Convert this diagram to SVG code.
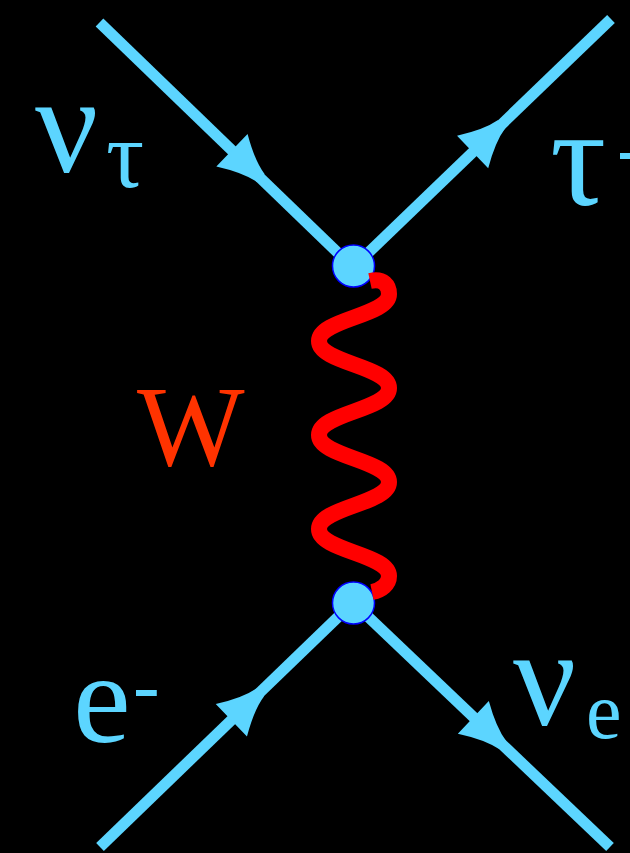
<svg xmlns="http://www.w3.org/2000/svg" width="630" height="853" viewBox="0 0 630 853">
<defs>
<style>
.fermion{stroke:#5cd5ff;stroke-width:11;fill:none;stroke-linecap:butt}
.arrow{fill:#5cd5ff}
.vertex{fill:#5cd5ff;stroke:#0000ff;stroke-width:1.5}
.lbl{font-family:"Liberation Serif","Times New Roman",serif;fill:#5cd5ff}
.wlbl{font-family:"Liberation Serif","Times New Roman",serif;fill:#ff3300}
</style>
<path id="ah" d="M2,-5.5 Q-14,-8 -38,-22.5 L-38,22.5 Q-14,8 2,5.5 Z"/>
</defs>
<rect x="0" y="0" width="630" height="853" fill="#000"/>
<g id="connectors">
<line class="fermion" x1="99.5" y1="22.5" x2="366" y2="280"/>
<line class="fermion" x1="611" y1="19" x2="340" y2="280"/>
<line class="fermion" x1="100" y1="847" x2="366" y2="590"/>
<line class="fermion" x1="610" y1="847" x2="340" y2="590"/>
<use href="#ah" class="arrow" transform="translate(259.3,176.6) rotate(43.96)"/>
<use href="#ah" class="arrow" transform="translate(500,125.7) rotate(-43.87)"/>
<use href="#ah" class="arrow" transform="translate(258.7,693.9) rotate(-43.96)"/>
<use href="#ah" class="arrow" transform="translate(500.9,743.5) rotate(43.5)"/>
</g>
<g id="v1"><circle class="vertex" cx="353.5" cy="266" r="21"/></g>
<g id="v2"><circle class="vertex" cx="353.5" cy="603" r="21"/></g>
<g id="w-boson">
<path d="M370,281 C384,278 389,286 389,294 C389,316 319,319 319,341 C319,363 389,366 389,388 C389,410 319,413 319,435 C319,457 389,460 389,482 C389,504 319,507 319,529 C319,551 389,554 389,576 C389,584 382,590 372,592" fill="none" stroke="#ff0000" stroke-width="16" stroke-linecap="butt"/>
</g>
<g id="labels">
<text class="lbl" x="35" y="172" font-size="140">ν<tspan x="106" y="187" font-size="95">τ</tspan></text>
<text class="lbl" x="550" y="205" font-size="140">τ<tspan x="617" y="175" font-size="80">-</tspan></text>
<text class="lbl" x="513" y="725" font-size="140">ν<tspan x="586" y="738" font-size="80">e</tspan></text>
<text class="lbl" x="73" y="742" font-size="130">e<tspan x="133" y="712" font-size="80">-</tspan></text>
<text class="wlbl" x="137" y="465" font-size="114">W</text>
</g>
</svg>
